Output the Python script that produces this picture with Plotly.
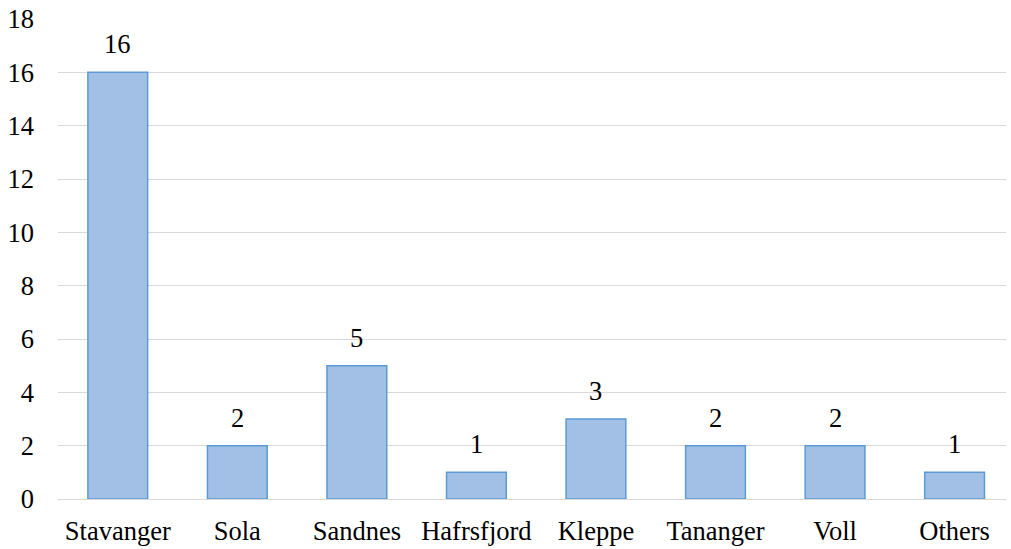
import plotly.graph_objects as go

# Number of respondents by location
locations = ["Stavanger", "Sola", "Sandnes", "Hafrsfjord", "Kleppe", "Tananger", "Voll", "Others"]
counts = [16, 2, 5, 1, 3, 2, 2, 1]
y_ticks = [0, 2, 4, 6, 8, 10, 12, 14, 16, 18]

font_family = "Times New Roman"
font_size = 26.5

fig = go.Figure(
    go.Bar(
        x=locations,
        y=counts,
        marker=dict(color="#a2c0e6", line=dict(color="#5b9bd5", width=1.5)),
        hoverinfo="x+y",
    )
)

# Value labels above each bar
for loc, val in zip(locations, counts):
    fig.add_annotation(
        x=loc, y=val, text=str(val), showarrow=False,
        yanchor="bottom", yshift=11,
        font=dict(family=font_family, size=font_size, color="#000000"),
    )

fig.update_layout(
    width=1011, height=549,
    margin=dict(l=58, r=5, t=19, b=50, autoexpand=False),
    paper_bgcolor="white", plot_bgcolor="white",
    bargap=0.5,
    showlegend=False,
    font=dict(family=font_family, size=font_size, color="#000000"),
)
fig.update_xaxes(
    range=[-0.5, 7.43], automargin=False,
    showgrid=False, showline=False, ticks="", ticklabelstandoff=13,
    tickfont=dict(family=font_family, size=font_size, color="#000000"),
)
fig.update_yaxes(
    range=[0, 18], tickvals=y_ticks, ticktext=[str(v) for v in y_ticks],
    automargin=False,
    showgrid=True, gridcolor="#d9d9d9", gridwidth=1.3,
    zeroline=True, zerolinecolor="#d9d9d9", zerolinewidth=1.3,
    showline=False, ticks="", ticklabelstandoff=23,
    tickfont=dict(family=font_family, size=font_size, color="#000000"),
)

fig.write_html("out.html")
